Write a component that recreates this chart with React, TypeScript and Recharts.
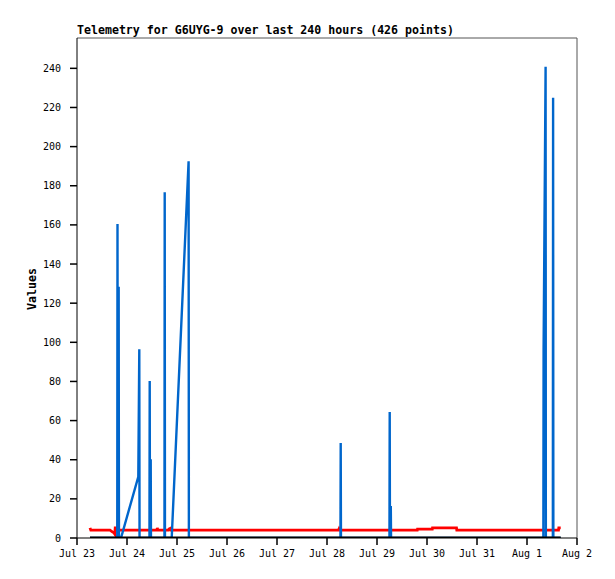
import React from 'react';
import { LineChart, Line, XAxis, YAxis, ReferenceLine } from 'recharts';

// hours since Jul 23 00:00
const tickHours = [0, 24, 48, 72, 96, 120, 144, 168, 192, 216, 240];
const tickLabels = ['Jul 23', 'Jul 24', 'Jul 25', 'Jul 26', 'Jul 27', 'Jul 28', 'Jul 29', 'Jul 30', 'Jul 31', 'Aug 1', 'Aug 2'];
const yTicks = [0, 20, 40, 60, 80, 100, 120, 140, 160, 180, 200, 220, 240];

const blueHours = [6.24, 19.32, 19.44, 19.56, 20.0, 20.14, 21.12, 29.42, 29.9, 30.02, 34.78, 34.9, 35.02, 35.38, 35.5, 41.98, 42.1, 42.22, 45.46, 53.57, 53.7, 126.46, 126.58, 126.7, 149.98, 150.1, 150.22, 150.62, 150.74, 223.85, 223.97, 224.93, 225.05, 228.41, 228.53, 228.65, 232.18];
const blueValues = [0, 0, 160.4, 0, 128.4, 0, 0, 31.3, 96.4, 0, 0, 80.2, 0, 40.2, 0, 0, 176.7, 0, 0, 192.5, 0, 0, 48.5, 0, 0, 64.4, 0, 16.3, 0, 0, 96.8, 240.8, 0, 0, 225, 0, 0];

const redHours = [6.24, 6.62, 15.84, 16.8, 17.76, 18.14, 18.34, 19.44, 19.68, 38.4, 38.54, 38.78, 43.92, 44.16, 44.88, 45.12, 125.52, 125.76, 126.0, 163.34, 163.44, 170.54, 170.64, 182.16, 182.3, 231.12, 231.26, 232.18];
const redValues = [5.2, 4.0, 4.0, 3.3, 2.6, 2.0, 5.2, 5.2, 4.0, 4.0, 5.2, 4.0, 4.0, 4.6, 5.0, 4.0, 4.0, 4.6, 4.0, 4.0, 4.5, 4.5, 5.2, 5.2, 4.0, 4.0, 5.2, 5.2];

const blackHours = [6.24, 232.18];
const blackValues = [0, 0];

const toRows = (hs: number[], vs: number[]) => hs.map((h, i) => ({ h, v: vs[i] }));
const blueData = toRows(blueHours, blueValues);
const redData = toRows(redHours, redValues);
const blackData = toRows(blackHours, blackValues);

const mono = '"DejaVu Sans Mono", "Liberation Mono", monospace';
const tickStyle = { fontFamily: mono, fontSize: 10, fill: '#000' };

export default function App() {
  return (
    <div style={{ position: 'absolute', left: 0, top: 0, width: 615, height: 579, background: '#fff' }}>
      <div
        style={{
          position: 'absolute',
          left: 77,
          top: 24,
          fontFamily: mono,
          fontWeight: 'bold',
          fontSize: 11.6,
          lineHeight: '13px',
          color: '#000',
          whiteSpace: 'nowrap',
        }}
      >
        Telemetry for G6UYG-9 over last 240 hours (426 points)
      </div>
      <div
        style={{
          position: 'absolute',
          left: 32,
          top: 289,
          transform: 'translate(-50%, -50%) rotate(-90deg)',
          fontFamily: mono,
          fontWeight: 'bold',
          fontSize: 11.6,
          color: '#000',
          whiteSpace: 'nowrap',
        }}
      >
        Values
      </div>
      <LineChart width={615} height={579} margin={{ top: 38, right: 38, bottom: 11, left: 17 }}>
        <XAxis
          type="number"
          dataKey="h"
          domain={[0, 240]}
          ticks={tickHours}
          tickFormatter={(v: number) => tickLabels[tickHours.indexOf(v)] ?? ''}
          allowDataOverflow
          height={30}
          tickSize={7}
          tickMargin={5}
          tick={tickStyle}
          axisLine={{ stroke: '#000', strokeWidth: 1 }}
          tickLine={{ stroke: '#000', strokeWidth: 1.5 }}
          interval={0}
        />
        <YAxis
          type="number"
          domain={[0, 255.5]}
          ticks={yTicks}
          allowDataOverflow
          width={60}
          tickSize={7}
          tickMargin={9}
          tick={tickStyle}
          axisLine={{ stroke: '#000', strokeWidth: 1 }}
          tickLine={{ stroke: '#000', strokeWidth: 1.5 }}
          interval={0}
        />
        <ReferenceLine y={255.5} stroke="#555" strokeWidth={1} ifOverflow="visible" />
        <ReferenceLine x={240} stroke="#555" strokeWidth={1} ifOverflow="visible" />
        <Line data={redData} dataKey="v" type="linear" stroke="#ff0000" strokeWidth={2.8} dot={false} isAnimationActive={false} />
        <Line data={blueData} dataKey="v" type="linear" stroke="#0066cc" strokeWidth={2.4} dot={false} strokeLinejoin="miter" isAnimationActive={false} />
        <Line data={blackData} dataKey="v" type="linear" stroke="#000" strokeWidth={3} dot={false} isAnimationActive={false} />
      </LineChart>
    </div>
  );
}
